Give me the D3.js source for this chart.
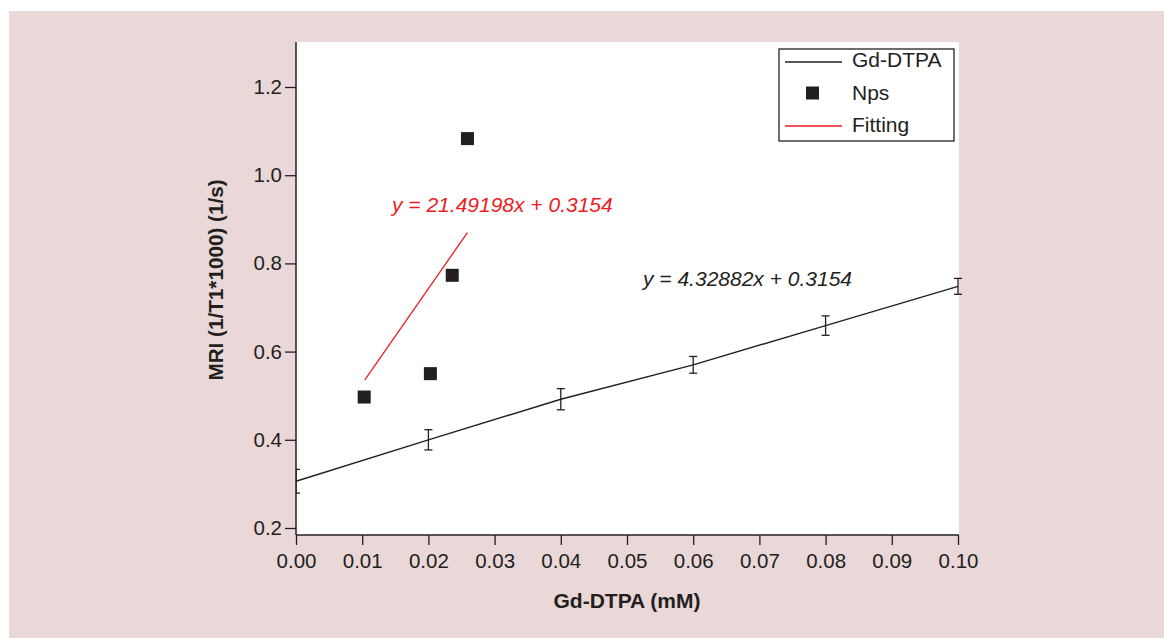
<!DOCTYPE html>
<html>
<head>
<meta charset="utf-8">
<script src="https://cdn.jsdelivr.net/npm/d3@7"></script>
<style>
  body { margin: 0; background: #fff; }
  svg { display: block; font-family: "Liberation Sans", Arial, sans-serif; }
</style>
</head>
<body>
<div class="container"></div>
<script>
// DATA
const gdConc = [0, 0.02, 0.04, 0.06, 0.08, 0.10];
const gdMri = [0.306, 0.400, 0.492, 0.570, 0.659, 0.748];
const gdErr = [0.027, 0.023, 0.024, 0.019, 0.022, 0.018];

const npsConc = [0.0103, 0.0203, 0.0236, 0.0259];
const npsMri = [0.497, 0.550, 0.773, 1.083];

// red fitting segment endpoints
const fitConc = [0.0104, 0.0259];
const fitMri = [0.536, 0.870];

const xTicks = [0, 0.01, 0.02, 0.03, 0.04, 0.05, 0.06, 0.07, 0.08, 0.09, 0.10];
const yTicks = [0.2, 0.4, 0.6, 0.8, 1.0, 1.2];

const legendLabels = ["Gd-DTPA", "Nps", "Fitting"];
const redEquation = "y = 21.49198x + 0.3154";
const blackEquation = "y = 4.32882x + 0.3154";

// SETUP
const width = 1164;
const height = 638;
const plot = { left: 296, right: 959, top: 42, bottom: 535 };
const ink = "#231f20";

const svg = d3.select(".container")
  .append("svg")
  .attr("width", width)
  .attr("height", height);

// pink panel
svg.append("rect")
  .attr("x", 9).attr("y", 11)
  .attr("width", width - 9).attr("height", height - 11)
  .attr("fill", "#ead8d8");

// white plotting area
svg.append("rect")
  .attr("x", plot.left).attr("y", plot.top)
  .attr("width", plot.right - plot.left).attr("height", plot.bottom - plot.top)
  .attr("fill", "#fff");

const xScale = d3.scaleLinear().domain([0, 0.1]).range([296, 958]);
const yScale = d3.scaleLinear().domain([0.2, 1.2]).range([528, 87]);

// clip so error bar at x=0 is cut by the axis
svg.append("clipPath").attr("id", "clip")
  .append("rect")
  .attr("x", plot.left).attr("y", 0)
  .attr("width", width - plot.left).attr("height", height);

// AXES
const xAxis = svg.append("g")
  .attr("transform", `translate(0,${plot.bottom})`)
  .call(d3.axisBottom(xScale).tickValues(xTicks).tickSize(10).tickPadding(8)
    .tickFormat(d3.format(".2f")).tickSizeOuter(0));

const yAxis = svg.append("g")
  .attr("transform", `translate(${plot.left},0)`)
  .call(d3.axisLeft(yScale).tickValues(yTicks).tickSize(11).tickPadding(3)
    .tickFormat(d3.format(".1f")).tickSizeOuter(0));

[xAxis, yAxis].forEach(a => {
  a.select(".domain").remove();
  a.selectAll("line").attr("stroke", ink).attr("stroke-width", 1.3);
  a.selectAll("text").attr("fill", ink).style("font-size", "20.5px")
    .style("font-family", "'Liberation Sans', Arial, sans-serif");
});

// axis lines spanning whole plot area
svg.append("line")
  .attr("x1", plot.left).attr("x2", plot.right)
  .attr("y1", plot.bottom).attr("y2", plot.bottom)
  .attr("stroke", ink).attr("stroke-width", 1.5);
svg.append("line")
  .attr("x1", plot.left).attr("x2", plot.left)
  .attr("y1", plot.top).attr("y2", plot.bottom)
  .attr("stroke", ink).attr("stroke-width", 1.5);

// axis titles
svg.append("text")
  .attr("x", 627).attr("y", 608)
  .attr("text-anchor", "middle")
  .attr("font-weight", "bold")
  .attr("font-size", 21)
  .attr("fill", ink)
  .text("Gd-DTPA (mM)");

svg.append("text")
  .attr("transform", "translate(223,280) rotate(-90)")
  .attr("text-anchor", "middle")
  .attr("font-weight", "bold")
  .attr("font-size", 20.7)
  .attr("fill", ink)
  .text("MRI (1/T1*1000) (1/s)");

// Gd-DTPA line
const gdData = gdConc.map((c, i) => ({ x: c, y: gdMri[i], e: gdErr[i] }));
const line = d3.line().x(d => xScale(d.x)).y(d => yScale(d.y));

svg.append("path")
  .datum(gdData)
  .attr("d", line)
  .attr("fill", "none")
  .attr("stroke", ink)
  .attr("stroke-width", 1.4);

// error bars
const bars = svg.append("g").attr("clip-path", "url(#clip)")
  .selectAll("g").data(gdData).enter().append("g")
  .attr("stroke", ink).attr("stroke-width", 1.3);
bars.append("line")
  .attr("x1", d => xScale(d.x)).attr("x2", d => xScale(d.x))
  .attr("y1", d => yScale(d.y - d.e)).attr("y2", d => yScale(d.y + d.e));
bars.append("line")
  .attr("x1", d => xScale(d.x) - 4).attr("x2", d => xScale(d.x) + 4)
  .attr("y1", d => yScale(d.y - d.e)).attr("y2", d => yScale(d.y - d.e));
bars.append("line")
  .attr("x1", d => xScale(d.x) - 4).attr("x2", d => xScale(d.x) + 4)
  .attr("y1", d => yScale(d.y + d.e)).attr("y2", d => yScale(d.y + d.e));

// fitting line (red)
svg.append("line")
  .attr("x1", xScale(fitConc[0])).attr("y1", yScale(fitMri[0]))
  .attr("x2", xScale(fitConc[1])).attr("y2", yScale(fitMri[1]))
  .attr("stroke", "#ed1c24").attr("stroke-width", 1.3);

// Nps squares
svg.selectAll("rect.nps")
  .data(npsConc.map((c, i) => ({ x: c, y: npsMri[i] })))
  .enter().append("rect")
  .attr("class", "nps")
  .attr("x", d => xScale(d.x) - 6.5)
  .attr("y", d => yScale(d.y) - 6.5)
  .attr("width", 13).attr("height", 13)
  .attr("fill", ink);

// equations
svg.append("text")
  .attr("x", 392).attr("y", 212)
  .attr("font-style", "italic").attr("font-size", 21)
  .attr("fill", "#ed1c24")
  .text(redEquation);

svg.append("text")
  .attr("x", 643).attr("y", 286)
  .attr("font-style", "italic").attr("font-size", 21)
  .attr("fill", ink)
  .text(blackEquation);

// LEGEND
const legend = svg.append("g");
legend.append("rect")
  .attr("x", 779).attr("y", 49)
  .attr("width", 175).attr("height", 92)
  .attr("fill", "#fff")
  .attr("stroke", ink).attr("stroke-width", 1.3);

const rowY = [62, 93, 126];
const textY = [67, 100, 132];
legend.append("line")
  .attr("x1", 785).attr("x2", 842).attr("y1", rowY[0]).attr("y2", rowY[0])
  .attr("stroke", ink).attr("stroke-width", 1.3);
legend.append("rect")
  .attr("x", 806).attr("y", rowY[1] - 6.5).attr("width", 13).attr("height", 13)
  .attr("fill", ink);
legend.append("line")
  .attr("x1", 785).attr("x2", 842).attr("y1", rowY[2]).attr("y2", rowY[2])
  .attr("stroke", "#ed1c24").attr("stroke-width", 1.3);

legend.selectAll("text.leg")
  .data(legendLabels)
  .enter().append("text")
  .attr("class", "leg")
  .attr("x", 852)
  .attr("y", (d, i) => textY[i])
  .attr("font-size", 21)
  .attr("fill", ink)
  .text(d => d);
</script>
</body>
</html>
